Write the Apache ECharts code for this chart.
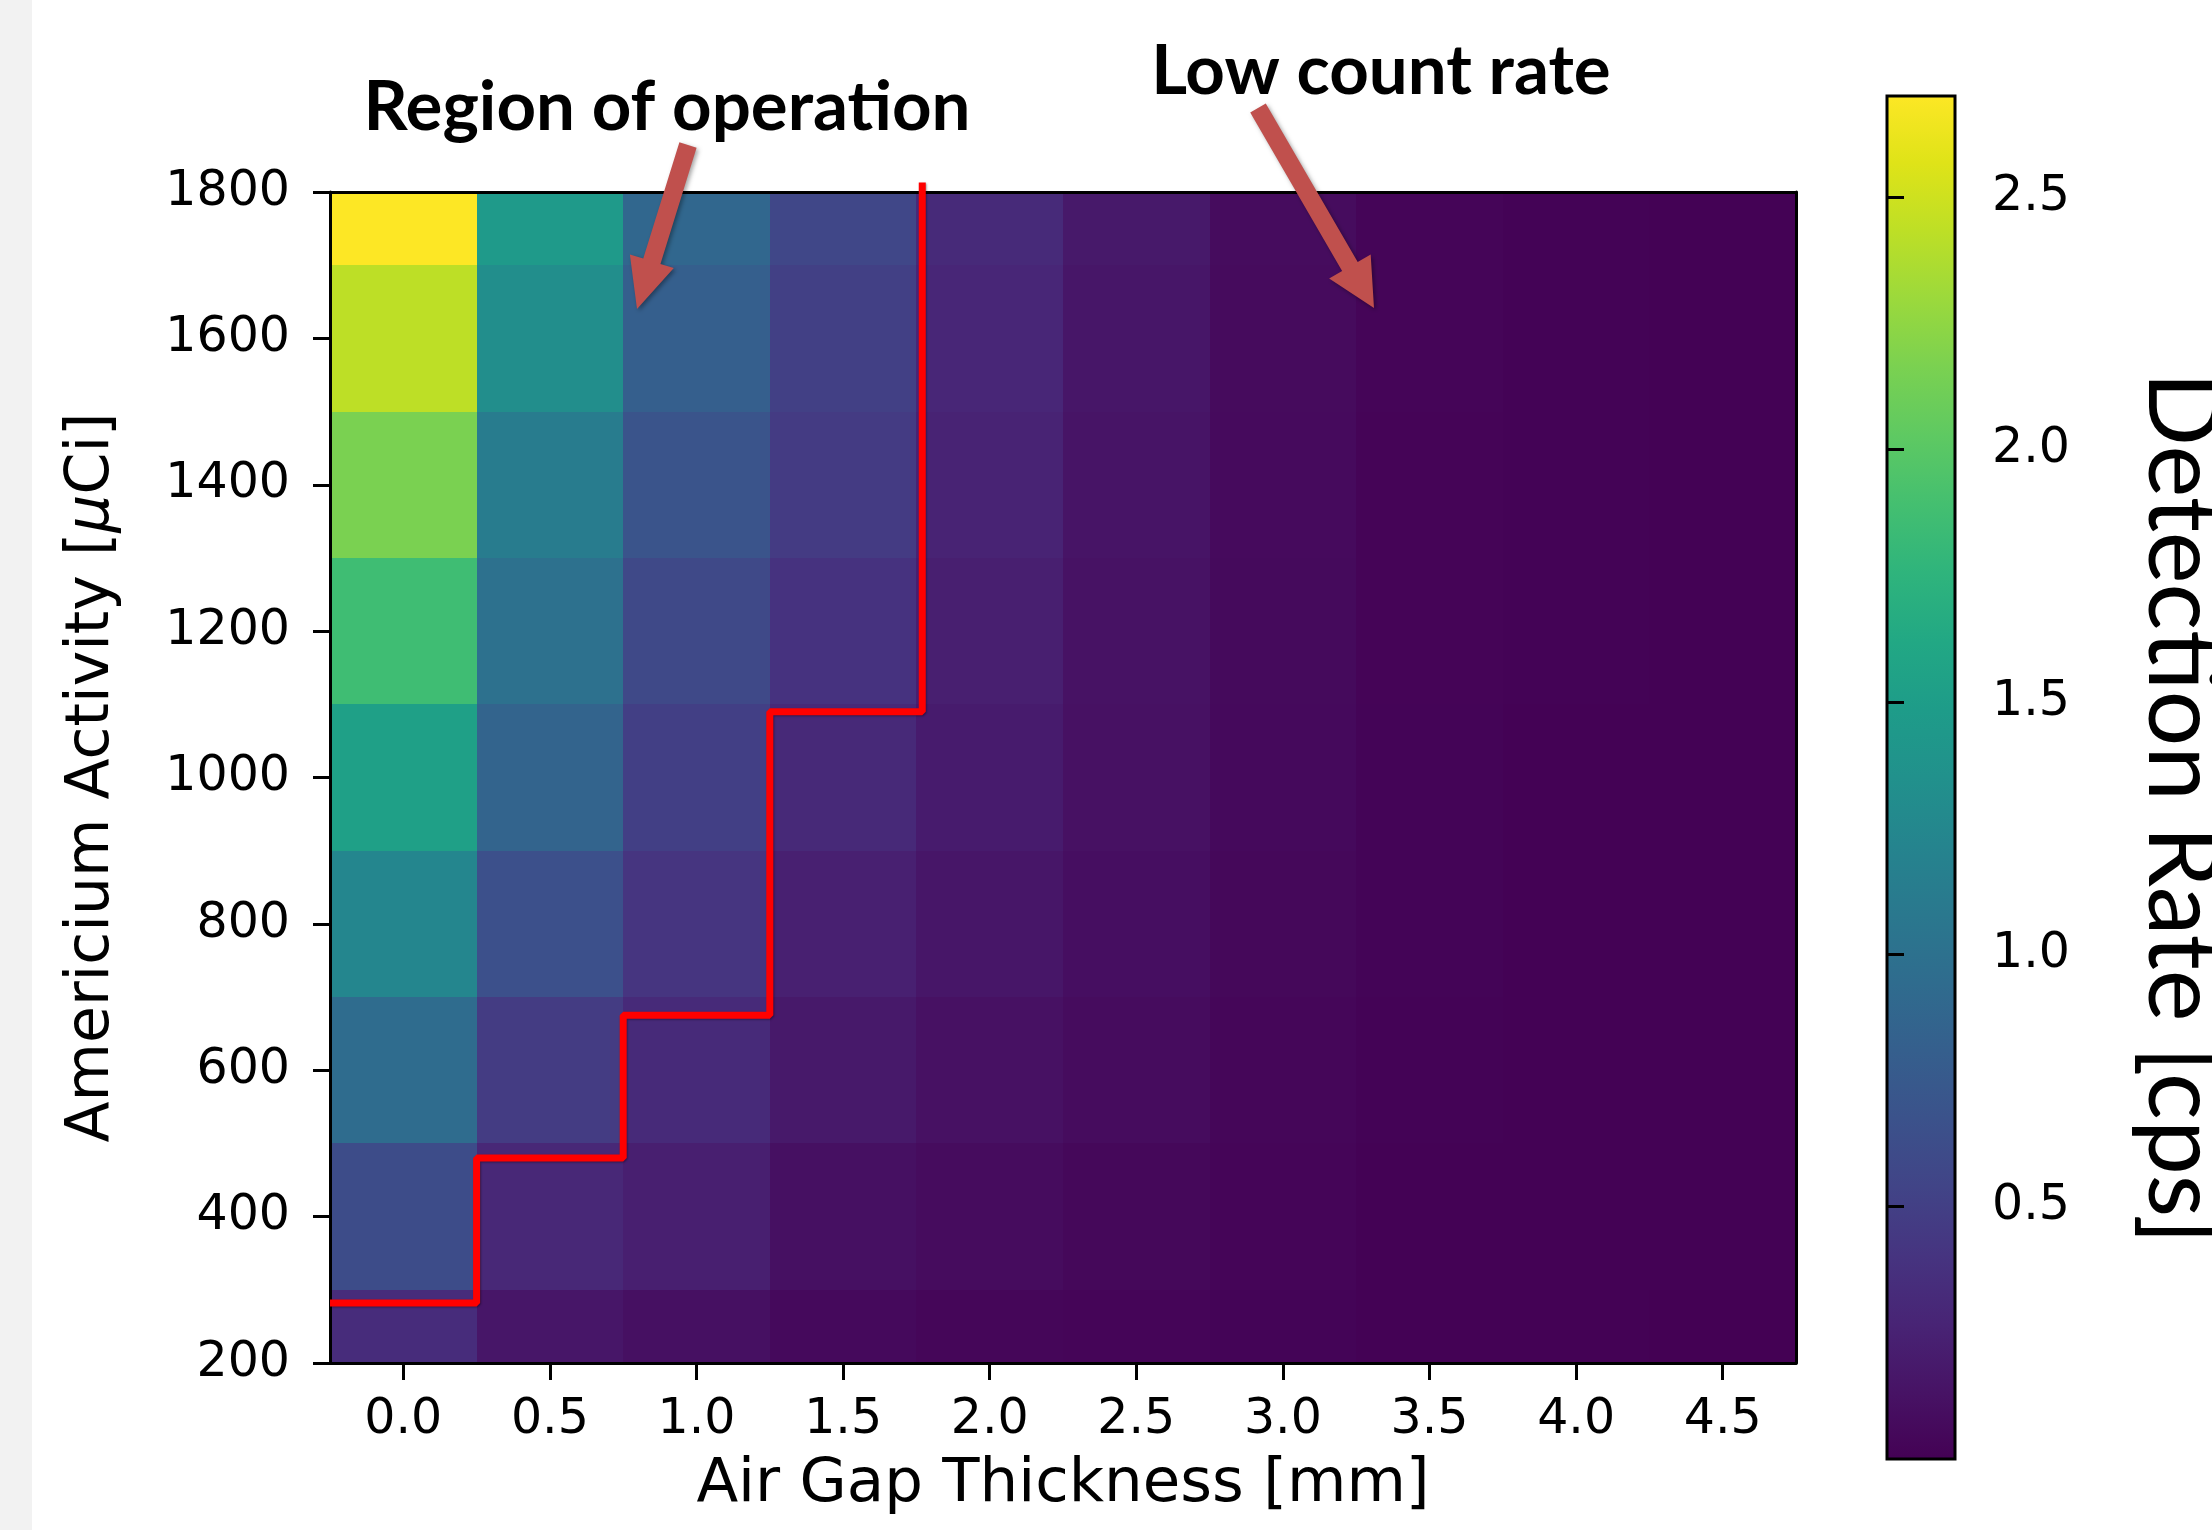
<!DOCTYPE html>
<html>
<head>
<meta charset="utf-8">
<script src="https://cdn.jsdelivr.net/npm/echarts@6/dist/echarts.min.js"></script>
<style>
  html, body { margin: 0; padding: 0; background: #fff; }
  #chart { width: 2212px; height: 1530px; }
</style>
</head>
<body>
<div id="chart"></div>
<script>
// Air gap thickness [mm] (columns) and americium activity [uCi] (rows)
const gapX = [0.0, 0.5, 1.0, 1.5, 2.0, 2.5, 3.0, 3.5, 4.0, 4.5];
const activity = [200, 400, 600, 800, 1000, 1200, 1400, 1600, 1800];

// Detection rate [cps] per gap column, from 200 to 1800 uCi
const rateGap00 = [0.34, 0.62, 0.95, 1.24, 1.53, 1.86, 2.16, 2.43, 2.70];
const rateGap05 = [0.16, 0.30, 0.47, 0.66, 0.86, 1.00, 1.13, 1.32, 1.46];
const rateGap10 = [0.11, 0.23, 0.32, 0.41, 0.50, 0.59, 0.70, 0.81, 0.89];
const rateGap15 = [0.06, 0.11, 0.18, 0.24, 0.31, 0.39, 0.46, 0.51, 0.57];
const rateGap20 = [0.04, 0.08, 0.12, 0.16, 0.20, 0.23, 0.26, 0.29, 0.32];
const rateGap25 = [0.03, 0.05, 0.08, 0.10, 0.12, 0.13, 0.14, 0.16, 0.18];
const rateGap30 = [0.02, 0.03, 0.04, 0.05, 0.06, 0.065, 0.07, 0.075, 0.08];
const rateGap35 = [0.01, 0.01, 0.015, 0.02, 0.02, 0.025, 0.025, 0.03, 0.03];
const rateGap40 = [0.005, 0.006, 0.008, 0.01, 0.01, 0.012, 0.012, 0.015, 0.015];
const rateGap45 = [0.003, 0.004, 0.005, 0.006, 0.006, 0.007, 0.007, 0.008, 0.008];
const rateColumns = [rateGap00, rateGap05, rateGap10, rateGap15, rateGap20,
                     rateGap25, rateGap30, rateGap35, rateGap40, rateGap45];

// Region of operation boundary (red step line)
const stepGap = [-0.25, 0.25, 0.25, 0.75, 0.75, 1.25, 1.25, 1.77, 1.77];
const stepActivity = [282, 282, 480, 480, 675, 675, 1090, 1090, 1813];

// Tick labels
const gapTicks = [0.0, 0.5, 1.0, 1.5, 2.0, 2.5, 3.0, 3.5, 4.0, 4.5];
const rateTicks = [0.5, 1.0, 1.5, 2.0, 2.5];
const colorMin = 0.0;
const colorMax = 2.70;

const viridis = ['#440154', '#471365', '#482475', '#463480', '#414487', '#3b528b',
  '#355f8d', '#2f6c8e', '#2a788e', '#25848e', '#21918c', '#1e9c89', '#22a884',
  '#2fb47c', '#44bf70', '#5ec962', '#7ad151', '#9bd93c', '#bddf26', '#dfe318', '#fde725'];

const cells = [];
rateColumns.forEach((col, i) => {
    col.forEach((v, j) => cells.push([gapX[i], activity[j], v]));
});
const halfW = (gapX[1] - gapX[0]) / 2;
const halfH = (activity[1] - activity[0]) / 2;

const tickFont = 'DejaVu Sans';
const black = '#000';

function renderCell(params, api) {
    const x = api.value(0), y = api.value(1);
    const p1 = api.coord([x - halfW, y + halfH]).map(Math.round);
    const p2 = api.coord([x + halfW, y - halfH]).map(Math.round);
    const shape = echarts.graphic.clipRectByRect(
        {x: p1[0], y: p1[1], width: p2[0] - p1[0], height: p2[1] - p1[1]},
        {x: params.coordSys.x, y: params.coordSys.y, width: params.coordSys.width, height: params.coordSys.height}
    );
    if (!shape) return;
    return {type: 'rect', shape, style: {fill: api.visual('color')}};
}

function renderColorbar(params, api) {
    const p1 = api.coord([0, colorMax]);
    const p2 = api.coord([1, colorMin]);
    const stops = viridis.map((c, i) => ({offset: i / (viridis.length - 1), color: c}));
    return {
        type: 'rect',
        shape: {x: p1[0], y: p1[1], width: p2[0] - p1[0], height: p2[1] - p1[1]},
        style: {
            fill: new echarts.graphic.LinearGradient(0, 1, 0, 0, stops),
            stroke: black, lineWidth: 3
        }
    };
}

// Simple block arrow polygon (annotation)
function arrow(tail, tip, shaftW, headW, headL) {
    const dx = tip[0] - tail[0], dy = tip[1] - tail[1];
    const len = Math.hypot(dx, dy);
    const ux = dx / len, uy = dy / len, nx = -uy, ny = ux;
    const bx = tip[0] - ux * headL, by = tip[1] - uy * headL;
    const pts = [
        [tail[0] + nx * shaftW / 2, tail[1] + ny * shaftW / 2],
        [bx + nx * shaftW / 2, by + ny * shaftW / 2],
        [bx + nx * headW / 2, by + ny * headW / 2],
        tip,
        [bx - nx * headW / 2, by - ny * headW / 2],
        [bx - nx * shaftW / 2, by - ny * shaftW / 2],
        [tail[0] - nx * shaftW / 2, tail[1] - ny * shaftW / 2]
    ];
    return {
        type: 'polygon', shape: {points: pts}, z: 100,
        style: {fill: '#c0504d', shadowBlur: 4, shadowOffsetX: 2, shadowOffsetY: 2, shadowColor: 'rgba(0,0,0,0.35)'}
    };
}

const chart = echarts.init(document.getElementById('chart'), null, {renderer: 'canvas'});

const plainLine = {show: true, onZero: false, lineStyle: {color: black, width: 3}};

chart.setOption({
    animation: false,
    backgroundColor: '#fff',
    grid: [
        {left: 330, top: 192, width: 1466, height: 1171},
        {left: 1887, top: 96, width: 68, height: 1363}
    ],
    visualMap: {
        type: 'continuous', show: false, seriesIndex: 0, dimension: 2,
        min: colorMin, max: colorMax, inRange: {color: viridis}
    },
    xAxis: [
        {
            type: 'value', gridIndex: 0, min: -0.25, max: 4.75, z: 10,
            name: 'Air Gap Thickness [mm]', nameLocation: 'middle', nameGap: 92,
            nameTextStyle: {fontFamily: tickFont, fontSize: 61, color: black},
            axisLine: plainLine,
            axisTick: {show: true, inside: false, length: 17, lineStyle: {color: black, width: 3}, customValues: gapTicks},
            axisLabel: {
                fontFamily: tickFont, fontSize: 49, color: black, margin: 33,
                customValues: gapTicks, formatter: v => v.toFixed(1)
            },
            splitLine: {show: false}
        },
        {
            type: 'value', gridIndex: 0, position: 'top', min: -0.25, max: 4.75, z: 10,
            axisLine: plainLine, axisTick: {show: false}, axisLabel: {show: false}, splitLine: {show: false}
        },
        {
            type: 'value', gridIndex: 1, min: 0, max: 1, show: false
        }
    ],
    yAxis: [
        {
            type: 'value', gridIndex: 0, min: 200, max: 1800, interval: 200, z: 10,
            name: 'Americium Activity [{i|μ}Ci]', nameLocation: 'middle', nameGap: 208, nameRotate: 90,
            nameTextStyle: {
                fontFamily: tickFont, fontSize: 60, color: black,
                rich: {i: {fontFamily: tickFont, fontSize: 60, fontStyle: 'italic', color: black}}
            },
            axisLine: plainLine,
            axisTick: {show: true, inside: false, length: 17, lineStyle: {color: black, width: 3}},
            axisLabel: {fontFamily: tickFont, fontSize: 49, color: black, margin: 40, formatter: v => String(v)},
            splitLine: {show: false}
        },
        {
            type: 'value', gridIndex: 0, position: 'right', min: 200, max: 1800, z: 10,
            axisLine: plainLine, axisTick: {show: false}, axisLabel: {show: false}, splitLine: {show: false}
        },
        {
            type: 'value', gridIndex: 1, position: 'right', min: colorMin, max: colorMax, z: 10,
            axisLine: {show: false},
            axisTick: {show: true, length: 17, lineStyle: {color: black, width: 3}, customValues: rateTicks},
            axisLabel: {
                fontFamily: tickFont, fontSize: 49, color: black, margin: 37,
                customValues: rateTicks, formatter: v => v.toFixed(1)
            },
            splitLine: {show: false}
        }
    ],
    series: [
        {
            type: 'custom', xAxisIndex: 0, yAxisIndex: 0,
            renderItem: renderCell, data: cells, encode: {x: 0, y: 1}
        },
        {
            type: 'line', xAxisIndex: 0, yAxisIndex: 0, clip: false, z: 20,
            symbol: 'none', animation: false,
            data: stepGap.map((g, i) => [g, stepActivity[i]]),
            lineStyle: {color: '#ff0000', width: 7, shadowColor: 'rgba(0,0,0,0.35)', shadowBlur: 2, shadowOffsetX: 1, shadowOffsetY: 1}
        },
        {
            type: 'custom', xAxisIndex: 2, yAxisIndex: 2,
            renderItem: renderColorbar, data: [0]
        }
    ],
    graphic: [
        {type: 'rect', shape: {x: 0, y: 0, width: 32, height: 1530}, style: {fill: '#f2f2f2'}, z: -10},
        {
            type: 'text', x: 667, y: 108, z: 100,
            style: {text: 'Region of operation', fontFamily: 'Lato', fontWeight: 'bold', fontSize: 69,
                    fill: black, align: 'center', verticalAlign: 'middle'}
        },
        {
            type: 'text', x: 1381, y: 72, z: 100,
            style: {text: 'Low count rate', fontFamily: 'Lato', fontWeight: 'bold', fontSize: 69,
                    fill: black, align: 'center', verticalAlign: 'middle'}
        },
        {
            type: 'text', x: 2181, y: 808, rotation: -Math.PI / 2, z: 100,
            style: {text: 'Detection Rate [cps]', fontFamily: 'Lato', fontSize: 98,
                    fill: black, align: 'center', verticalAlign: 'middle'}
        },
        arrow([688, 145], [637, 309], 18, 46, 50),
        arrow([1258, 108], [1374, 308], 18, 48, 48)
    ]
});
</script>
</body>
</html>
